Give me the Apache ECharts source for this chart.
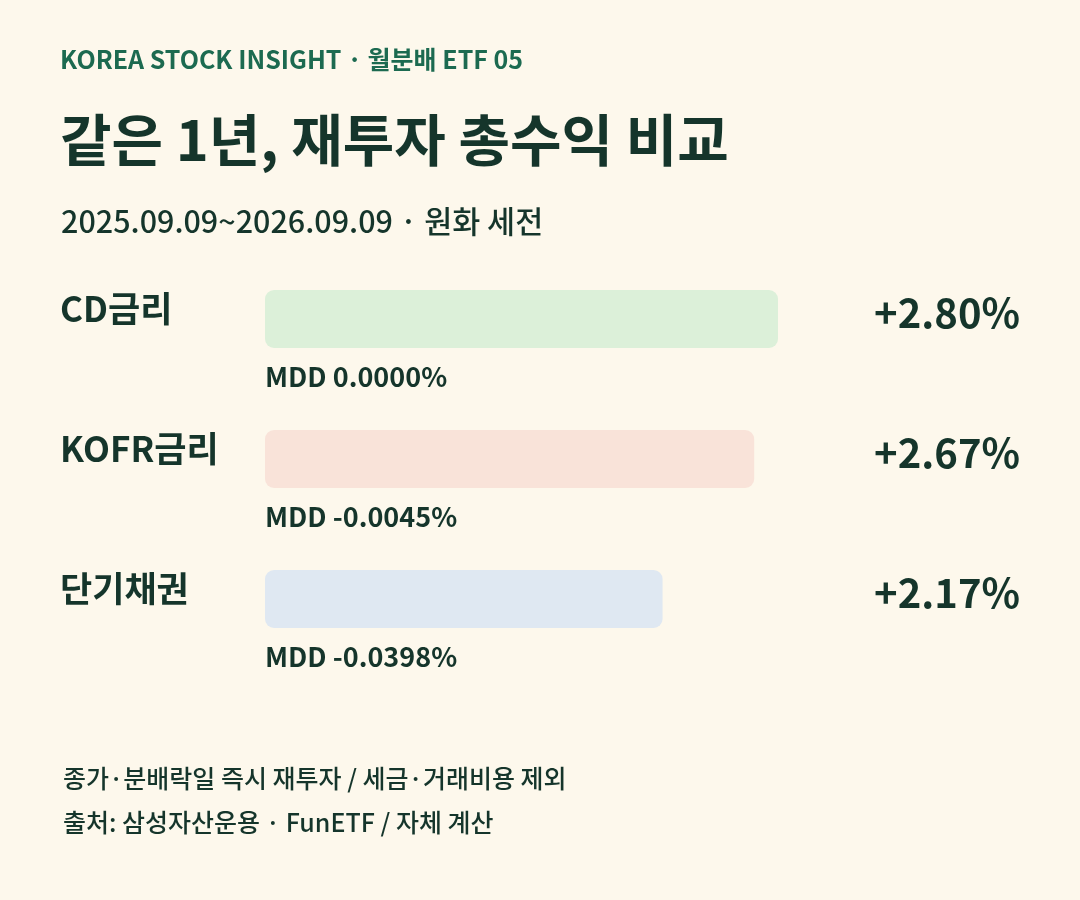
<!DOCTYPE html>
<html>
<head>
<meta charset="utf-8">
<script src="https://cdn.jsdelivr.net/npm/echarts@6/dist/echarts.min.js"></script>
<style>
  html, body { margin: 0; padding: 0; background: #fdf8ec; }
  #main { width: 1080px; height: 900px; }
</style>
</head>
<body>
<div id="main"></div>
<script>
// 자산별 1년 재투자 총수익 (%)
var categories = ['CD금리', 'KOFR금리', '단기채권'];
var totalReturn = [2.80, 2.67, 2.17];
var mddLabels = ['0.0000%', '-0.0045%', '-0.0398%'];
var barColors = ['#dcf0d9', '#f9e3d9', '#dfe8f2'];

var FONT = '"Noto Sans CJK KR", "Noto Sans", sans-serif';
var DARK = '#15352b';

var myChart = echarts.init(document.getElementById('main'));

var option = {
    backgroundColor: '#fdf8ec',
    textStyle: {fontFamily: FONT},
    title: [
        {
            text: 'KOREA STOCK INSIGHT · 월분배 ETF 05',
            left: 55, top: 42,
            textStyle: {fontFamily: FONT, fontSize: 25, fontWeight: 'bold', color: '#1c6a50'}
        },
        {
            text: '같은 1년, 재투자 총수익 비교',
            left: 55, top: 107,
            textStyle: {fontFamily: FONT, fontSize: 56, fontWeight: 'bold', color: DARK}
        },
        {
            text: '2025.09.09~2026.09.09 · 원화 세전',
            left: 56, top: 201,
            textStyle: {fontFamily: FONT, fontSize: 30.5, fontWeight: 500, color: DARK}
        },
        {
            text: '종가·분배락일 즉시 재투자 / 세금·거래비용 제외\n출처: 삼성자산운용 · FunETF / 자체 계산',
            left: 58, top: 751,
            textStyle: {fontFamily: FONT, fontSize: 25, fontWeight: 500, color: DARK, lineHeight: 44}
        }
    ],
    grid: {
        left: 265,
        right: 302,
        top: 249,
        bottom: 231
    },
    xAxis: {
        type: 'value',
        min: 0,
        max: 2.8,
        show: false
    },
    yAxis: [
        {
            type: 'category',
            data: categories,
            inverse: true,
            axisLine: {show: false},
            axisTick: {show: false},
            axisLabel: {
                align: 'left',
                margin: 205,
                formatter: function (v) {
                    return '{n|' + v + '}';
                },
                rich: {
                    n: {
                        fontFamily: FONT,
                        fontSize: 35,
                        fontWeight: 'bold',
                        color: DARK,
                        padding: [0, 0, 20, 0]
                    }
                }
            }
        },
        {
            type: 'category',
            data: categories,
            inverse: true,
            position: 'right',
            axisLine: {show: false},
            axisTick: {show: false},
            axisLabel: {
                align: 'right',
                margin: 242,
                formatter: function (v, i) {
                    return '{v|+' + totalReturn[i].toFixed(2) + '%}';
                },
                rich: {
                    v: {
                        fontFamily: FONT,
                        fontSize: 40,
                        fontWeight: 'bold',
                        color: DARK,
                        padding: [0, 0, 12, 0]
                    }
                }
            }
        }
    ],
    series: [
        {
            type: 'bar',
            data: totalReturn.map(function (v, i) {
                return {value: v, itemStyle: {color: barColors[i]}};
            }),
            barWidth: 58,
            itemStyle: {borderRadius: 9},
            silent: true,
            label: {
                show: true,
                position: [0, 87],
                align: 'left',
                verticalAlign: 'middle',
                fontFamily: FONT,
                fontSize: 27,
                fontWeight: 'bold',
                color: DARK,
                formatter: function (p) {
                    return 'MDD ' + mddLabels[p.dataIndex];
                }
            }
        }
    ]
};
myChart.setOption(option);
</script>
</body>
</html>
